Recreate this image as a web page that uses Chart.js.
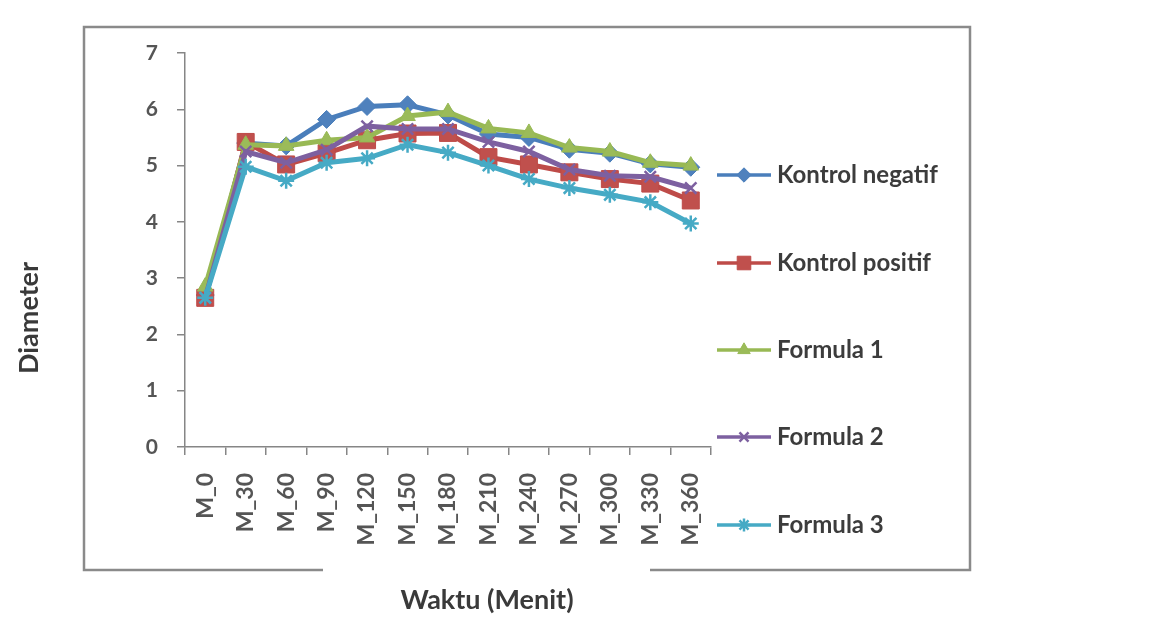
<!DOCTYPE html>
<html>
<head>
<meta charset="utf-8">
<script src="https://cdn.jsdelivr.net/npm/chart.js@4.4.1/dist/chart.umd.min.js"></script>
<style>
  html, body { margin: 0; padding: 0; background: #ffffff; }
  #wrap { width: 1154px; height: 630px; }
</style>
</head>
<body>
<div id="wrap"><canvas id="c" width="1154" height="630"></canvas></div>
<script>
// Sampling times (minutes) and measured diameters per group
const categories = ['M_0', 'M_30', 'M_60', 'M_90', 'M_120', 'M_150', 'M_180',
                    'M_210', 'M_240', 'M_270', 'M_300', 'M_330', 'M_360'];
const kontrolNegatif = [2.70, 5.40, 5.35, 5.82, 6.05, 6.08, 5.90, 5.56, 5.50, 5.29, 5.22, 5.03, 4.97];
const kontrolPositif = [2.65, 5.42, 5.02, 5.22, 5.45, 5.57, 5.58, 5.15, 5.02, 4.88, 4.76, 4.68, 4.38];
const formula1       = [2.85, 5.37, 5.35, 5.45, 5.50, 5.88, 5.95, 5.66, 5.58, 5.32, 5.25, 5.05, 5.00];
const formula2       = [2.65, 5.25, 5.05, 5.28, 5.70, 5.65, 5.65, 5.42, 5.25, 4.93, 4.82, 4.80, 4.60];
const formula3       = [2.65, 4.98, 4.73, 5.05, 5.13, 5.37, 5.23, 5.00, 4.76, 4.60, 4.48, 4.35, 3.97];
const seriesNames = ['Kontrol negatif', 'Kontrol positif', 'Formula 1', 'Formula 2', 'Formula 3'];
const yTickValues = [0, 1, 2, 3, 4, 5, 6, 7];
const yTitle = 'Diameter';
const xTitle = 'Waktu (Menit)';

const FONT = 'Lato, "Open Sans", "DejaVu Sans", sans-serif';
const AXIS_GREY = '#868686';

const styles = [
  { line: '#4A7EBB', fill: '#4F81BD', point: 'rectRot',  r: 9 },
  { line: '#BE4B48', fill: '#C0504D', point: 'rect',     r: 12 },
  { line: '#98B954', fill: '#9BBB59', point: 'triangle', r: 9 },
  { line: '#7D60A0', fill: '#8064A2', point: 'crossRot', r: 8 },
  { line: '#46AAC5', fill: '#4BACC6', point: 'star',     r: 8 }
];
const values = [kontrolNegatif, kontrolPositif, formula1, formula2, formula3];

const datasets = values.map((v, i) => ({
  label: seriesNames[i],
  data: v,
  borderColor: styles[i].line,
  backgroundColor: styles[i].fill,
  pointStyle: styles[i].point,
  pointRadius: styles[i].r,
  pointBorderColor: styles[i].line,
  pointBackgroundColor: styles[i].fill,
  pointBorderWidth: (styles[i].point === 'crossRot' || styles[i].point === 'star') ? 2.5 : 1,
  borderWidth: 5,
  tension: 0,
  fill: false,
  order: values.length - i   // later series sit on top
}));

// Outer frame with a gap in the bottom edge under the time-axis title
const framePlugin = {
  id: 'frame',
  afterDraw(chart) {
    const ctx = chart.ctx;
    ctx.save();
    ctx.strokeStyle = '#8a8a8a';
    ctx.lineWidth = 2.5;
    ctx.beginPath();
    ctx.moveTo(323, 570);
    ctx.lineTo(84, 570);
    ctx.lineTo(84, 27);
    ctx.lineTo(970, 27);
    ctx.lineTo(970, 570);
    ctx.lineTo(650, 570);
    ctx.stroke();

    // axis titles
    ctx.fillStyle = '#3a3a3a';
    ctx.font = 'bold 27px ' + FONT;
    ctx.textAlign = 'center';
    ctx.textBaseline = 'middle';
    ctx.fillText(xTitle, 487, 600);
    ctx.save();
    ctx.translate(29, 318);
    ctx.rotate(-Math.PI / 2);
    ctx.fillText(yTitle, 0, 0);
    ctx.restore();
    ctx.restore();
  }
};

// Legend: line segment with marker, then series name
const legendPlugin = {
  id: 'sideLegend',
  afterDraw(chart) {
    const ctx = chart.ctx;
    const x0 = chart.chartArea.right + 6;
    const ys = [175, 263, 350, 437, 525];
    chart.data.datasets.forEach((ds, i) => {
      const y = ys[i];
      ctx.save();
      ctx.strokeStyle = ds.borderColor;
      ctx.lineWidth = 3.5;
      ctx.beginPath();
      ctx.moveTo(x0, y);
      ctx.lineTo(x0 + 54, y);
      ctx.stroke();
      ctx.fillStyle = ds.pointBackgroundColor;
      ctx.strokeStyle = ds.pointBorderColor;
      ctx.lineWidth = ds.pointBorderWidth;
      Chart.helpers.drawPoint(ctx, { pointStyle: ds.pointStyle, radius: ds.pointRadius * 0.8, rotation: 0, borderWidth: ds.pointBorderWidth }, x0 + 27, y);
      ctx.fillStyle = '#3c3c3c';
      ctx.font = 'bold 24px ' + FONT;
      ctx.textAlign = 'left';
      ctx.textBaseline = 'middle';
      ctx.fillText(ds.label, x0 + 60, y);
      ctx.restore();
    });
  }
};

new Chart(document.getElementById('c'), {
  type: 'line',
  data: { labels: categories, datasets },
  options: {
    responsive: false,
    devicePixelRatio: 1,
    animation: false,
    layout: { padding: { left: 0, right: 443, top: 53, bottom: 0 } },
    plugins: { legend: { display: false }, tooltip: { enabled: false } },
    scales: {
      x: {
        type: 'category',
        offset: true,
        afterFit(s) { s.height = 183; },
        grid: { offset: true, drawOnChartArea: false, drawTicks: true, tickLength: 8, tickColor: AXIS_GREY, lineWidth: 1.5 },
        border: { color: AXIS_GREY, width: 1.5 },
        ticks: {
          autoSkip: false, minRotation: 90, maxRotation: 90, padding: 18,
          color: '#555555', font: { family: FONT, size: 23, weight: 'bold' }
        }
      },
      y: {
        min: 0, max: 7,
        afterFit(s) { s.width = 185; },
        afterBuildTicks(s) { s.ticks = yTickValues.map(v => ({ value: v })); },
        grid: { drawOnChartArea: false, drawTicks: true, tickLength: 8, tickColor: AXIS_GREY, lineWidth: 1.5 },
        border: { color: AXIS_GREY, width: 1.5 },
        ticks: {
          padding: 19, color: '#555555',
          font: { family: FONT, size: 21, weight: 'bold' }
        }
      }
    }
  },
  plugins: [framePlugin, legendPlugin]
});
</script>
</body>
</html>
